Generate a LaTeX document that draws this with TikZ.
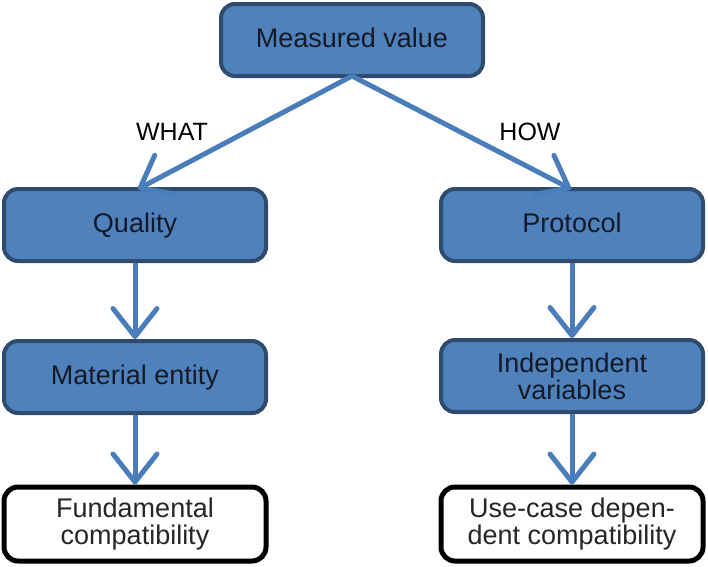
\documentclass[tikz,border=0pt]{standalone}
\usepackage{fontspec}
\setmainfont{Liberation Sans}
\usetikzlibrary{arrows.meta}
\definecolor{boxfill}{HTML}{4F81BD}
\definecolor{boxline}{HTML}{2F4B6E}
\definecolor{arrowcol}{HTML}{4A7EBB}
\definecolor{txt}{HTML}{141A26}
\tikzset{
  bluebox/.style={draw=boxline, fill=boxfill, line width=4pt, rounded corners=14pt,
    minimum width=262pt, minimum height=72pt, align=center, text=txt,
    font=\fontsize{27}{27}\selectfont},
  oneline/.style={text height=20pt, text depth=6pt},
  whitebox/.style={draw=black, fill=white, line width=5pt, rounded corners=14pt,
    minimum width=262pt, minimum height=74pt, align=center, text=black!85,
    font=\fontsize{27}{27}\selectfont},
  conn/.style={draw=arrowcol, line width=5pt,
    -{Straight Barb[length=28pt,width=44pt,round]}},
  lbl/.style={text=black, font=\fontsize{25}{28}\selectfont}
}
\begin{document}
\begin{tikzpicture}[x=1pt,y=-1pt]
\useasboundingbox (0,0) rectangle (708,566);
\node[bluebox,oneline] (mv) at (352,40) {Measured value};
\node[bluebox,oneline] (q) at (135,225) {Quality};
\node[bluebox,oneline] (p) at (572,225) {Protocol};
\node[bluebox,oneline] (me) at (135,377) {Material entity};
\node[bluebox] (iv) at (572,376) {Independent\\variables};
\node[whitebox] (fc) at (135,524) {Fundamental\\compatibility};
\node[whitebox] (uc) at (572,524) {Use-case depen-\\dent compatibility};
\coordinate (mvb) at (352,76);
\coordinate (qt) at (138,189);
\coordinate (pt) at (571,189);
\draw[conn] (mvb) -- (qt);
\draw[conn] (mvb) -- (pt);
\draw[conn] (q) -- (me);
\draw[conn] (p) -- (iv);
\draw[conn] (me) -- (fc);
\draw[conn] (iv) -- (uc);
\node[lbl] (what) at (172,132) {WHAT};
\node[lbl] (how) at (530,132) {HOW};
\end{tikzpicture}
\end{document}
